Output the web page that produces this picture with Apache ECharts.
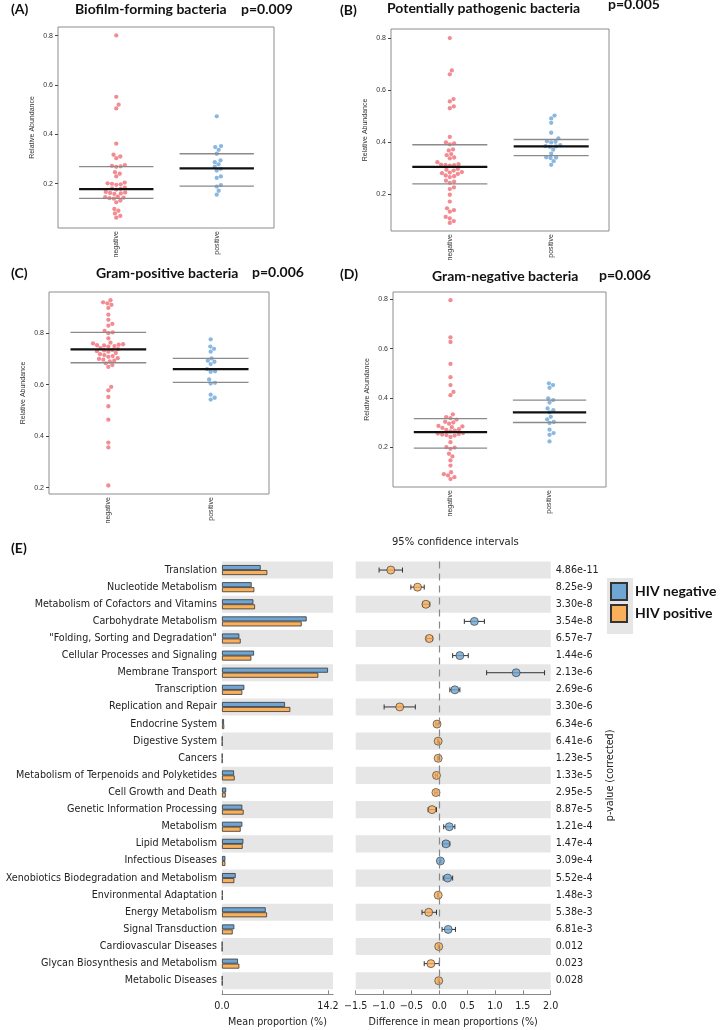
<!DOCTYPE html>
<html>
<head>
<meta charset="utf-8">
<script src="https://cdn.jsdelivr.net/npm/echarts@6/dist/echarts.min.js"></script>
<style>
  html, body { margin: 0; padding: 0; background: #fff; }
  #main { width: 720px; height: 1030px; }
</style>
</head>
<body>
<div id="main"></div>
<script>
// ---- panels A-D : relative abundance per sample ----
const groups = ['negative', 'positive'];

const biofilmNeg = [0.801, 0.552, 0.52, 0.505, 0.362, 0.317, 0.31, 0.303, 0.275, 0.272, 0.27, 0.268, 0.246, 0.24, 0.229, 0.204, 0.201, 0.199, 0.197, 0.195, 0.184, 0.181, 0.179, 0.176, 0.166, 0.164, 0.162, 0.16, 0.158, 0.147, 0.145, 0.143, 0.141, 0.139, 0.131, 0.124, 0.097, 0.09, 0.079, 0.069, 0.062];
const biofilmPos = [0.473, 0.352, 0.348, 0.337, 0.321, 0.294, 0.287, 0.278, 0.269, 0.26, 0.253, 0.229, 0.223, 0.194, 0.188, 0.171, 0.155];
const biofilmMed = [0.178, 0.262];
const biofilmQ1 = [0.14, 0.19];
const biofilmQ3 = [0.269, 0.321];

const pathoNeg = [0.80, 0.676, 0.661, 0.566, 0.557, 0.538, 0.531, 0.421, 0.4, 0.396, 0.392, 0.373, 0.369, 0.355, 0.351, 0.342, 0.339, 0.324, 0.316, 0.315, 0.314, 0.313, 0.311, 0.298, 0.295, 0.292, 0.286, 0.284, 0.282, 0.279, 0.273, 0.27, 0.267, 0.253, 0.249, 0.245, 0.227, 0.221, 0.199, 0.173, 0.147, 0.14, 0.134, 0.114, 0.108, 0.098, 0.091];
const pathoPos = [0.503, 0.492, 0.475, 0.437, 0.415, 0.404, 0.402, 0.4, 0.389, 0.386, 0.385, 0.383, 0.372, 0.357, 0.343, 0.342, 0.34, 0.328, 0.314];
const pathoMed = [0.306, 0.385];
const pathoQ1 = [0.241, 0.349];
const pathoQ3 = [0.391, 0.411];

const gramPosNeg = [0.928, 0.92, 0.916, 0.91, 0.898, 0.872, 0.852, 0.836, 0.829, 0.809, 0.803, 0.8, 0.78, 0.763, 0.76, 0.757, 0.755, 0.753, 0.752, 0.75, 0.748, 0.742, 0.738, 0.735, 0.733, 0.73, 0.728, 0.723, 0.718, 0.715, 0.711, 0.708, 0.703, 0.7, 0.697, 0.693, 0.69, 0.683, 0.676, 0.669, 0.591, 0.578, 0.552, 0.516, 0.464, 0.375, 0.356, 0.208];
const gramPosPos = [0.776, 0.748, 0.739, 0.728, 0.702, 0.693, 0.689, 0.68, 0.66, 0.652, 0.65, 0.62, 0.607, 0.604, 0.561, 0.549, 0.542];
const gramPosMed = [0.737, 0.66];
const gramPosQ1 = [0.685, 0.609];
const gramPosQ3 = [0.803, 0.702];

const gramNegNeg = [0.797, 0.646, 0.627, 0.538, 0.484, 0.452, 0.424, 0.411, 0.333, 0.322, 0.318, 0.312, 0.303, 0.3, 0.295, 0.286, 0.284, 0.281, 0.278, 0.273, 0.27, 0.267, 0.264, 0.257, 0.255, 0.253, 0.251, 0.249, 0.247, 0.241, 0.22, 0.2, 0.198, 0.193, 0.173, 0.162, 0.146, 0.125, 0.098, 0.09, 0.085, 0.078, 0.07];
const gramNegPos = [0.459, 0.452, 0.441, 0.398, 0.391, 0.381, 0.357, 0.35, 0.341, 0.323, 0.313, 0.302, 0.298, 0.271, 0.257, 0.25, 0.223];
const gramNegMed = [0.261, 0.341];
const gramNegQ1 = [0.196, 0.3];
const gramNegQ3 = [0.316, 0.391];

const panelTags = ['(A)', '(B)', '(C)', '(D)'];
const panelTitles = ['Biofilm-forming bacteria', 'Potentially pathogenic bacteria', 'Gram-positive bacteria', 'Gram-negative bacteria'];
const panelP = ['p=0.009', 'p=0.005', 'p=0.006', 'p=0.006'];
const yTicks = [0.2, 0.4, 0.6, 0.8];

// ---- panel E : KEGG level 2 pathways ----
const pathways = ['Translation', 'Nucleotide Metabolism', 'Metabolism of Cofactors and Vitamins', 'Carbohydrate Metabolism',
  '"Folding, Sorting and Degradation"', 'Cellular Processes and Signaling', 'Membrane Transport', 'Transcription',
  'Replication and Repair', 'Endocrine System', 'Digestive System', 'Cancers', 'Metabolism of Terpenoids and Polyketides',
  'Cell Growth and Death', 'Genetic Information Processing', 'Metabolism', 'Lipid Metabolism', 'Infectious Diseases',
  'Xenobiotics Biodegradation and Metabolism', 'Environmental Adaptation', 'Energy Metabolism', 'Signal Transduction',
  'Cardiovascular Diseases', 'Glycan Biosynthesis and Metabolism', 'Metabolic Diseases'];
const meanNeg = [5.18, 3.97, 4.2, 11.34, 2.32, 4.29, 14.2, 2.99, 8.44, 0.27, 0.05, 0.05, 1.61, 0.55, 2.72, 2.72, 2.86, 0.45, 1.83, 0.08, 5.85, 1.65, 0.03, 2.14, 0.05];
const meanPos = [6.07, 4.33, 4.42, 10.67, 2.5, 3.93, 12.9, 2.72, 9.15, 0.3, 0.05, 0.05, 1.7, 0.5, 2.9, 2.5, 2.77, 0.45, 1.65, 0.07, 6.03, 1.43, 0.03, 2.32, 0.05];
const diffMean = [-0.87, -0.39, -0.24, 0.63, -0.18, 0.37, 1.38, 0.28, -0.71, -0.04, -0.02, -0.02, -0.05, -0.06, -0.13, 0.18, 0.12, 0.02, 0.15, -0.02, -0.19, 0.16, -0.01, -0.15, -0.01];
const diffLow = [-1.08, -0.51, -0.3, 0.45, -0.23, 0.24, 0.85, 0.19, -0.99, -0.06, -0.03, -0.03, -0.07, -0.08, -0.2, 0.08, 0.06, 0.01, 0.07, -0.03, -0.31, 0.05, -0.02, -0.27, -0.02];
const diffHigh = [-0.66, -0.27, -0.17, 0.81, -0.12, 0.52, 1.89, 0.37, -0.43, -0.02, -0.01, -0.01, -0.03, -0.04, -0.05, 0.28, 0.19, 0.03, 0.24, -0.01, -0.05, 0.29, 0.0, 0.0, 0.0];
const pValues = ['4.86e-11', '8.25e-9', '3.30e-8', '3.54e-8', '6.57e-7', '1.44e-6', '2.13e-6', '2.69e-6', '3.30e-6', '6.34e-6',
  '6.41e-6', '1.23e-5', '1.33e-5', '2.95e-5', '8.87e-5', '1.21e-4', '1.47e-4', '3.09e-4', '5.52e-4', '1.48e-3',
  '5.38e-3', '6.81e-3', '0.012', '0.023', '0.028'];

// colours
const RED = '#ef6f77', LBLUE = '#6ea6d8';
const BLUE = '#6ea5d2', ORANGE = '#faaf5a';

const panels = [
  { neg: biofilmNeg, pos: biofilmPos, med: biofilmMed, q1: biofilmQ1, q3: biofilmQ3 },
  { neg: pathoNeg, pos: pathoPos, med: pathoMed, q1: pathoQ1, q3: pathoQ3 },
  { neg: gramPosNeg, pos: gramPosPos, med: gramPosMed, q1: gramPosQ1, q3: gramPosQ3 },
  { neg: gramNegNeg, pos: gramNegPos, med: gramNegMed, q1: gramNegQ1, q3: gramNegQ3 }
];

// layout of the four strip charts (pixel boxes and y range)
const boxes = [
  { left: 58, top: 27, width: 216, height: 201, yMin: 0.02, yMax: 0.835 },
  { left: 391, top: 29, width: 218, height: 202, yMin: 0.06, yMax: 0.835 },
  { left: 49, top: 292, width: 220, height: 202, yMin: 0.175, yMax: 0.96 },
  { left: 393, top: 292, width: 213, height: 195, yMin: 0.038, yMax: 0.83 }
];
const titlePos = [
  { tag: [11, 2], title: [75, 2], p: [241, 2] },
  { tag: [340, 3], title: [387, 1], p: [608, -3] },
  { tag: [11, 266], title: [96, 266], p: [252, 265] },
  { tag: [340, 267], title: [432, 269], p: [599, 268] }
];
const X_MIN = 0.42, X_MAX = 2.57, HALF = 0.37, DOT = 4.4;

// beeswarm placement (like R beeswarm 'swarm'), done in pixel space
function swarm(values, center, box) {
  const pxX = box.width / (X_MAX - X_MIN);
  const pxY = box.height / (box.yMax - box.yMin);
  const placed = [];
  values.slice().sort((a, b) => a - b).forEach(v => {
    const y = v * pxY;
    const cands = [0];
    placed.forEach(p => {
      const dy = Math.abs(p.y - y);
      if (dy < DOT) {
        const dx = Math.sqrt(DOT * DOT - dy * dy);
        cands.push(p.x + dx, p.x - dx);
      }
    });
    cands.sort((a, b) => Math.abs(a) - Math.abs(b));
    const x = cands.find(c => placed.every(p => (p.x - c) ** 2 + (p.y - y) ** 2 >= DOT * DOT - 1e-6));
    placed.push({ x: x, y: y, v: v });
  });
  return placed.map(p => [center + p.x / pxX, p.v]);
}

const chart = echarts.init(document.getElementById('main'));

const grids = [], xAxes = [], yAxes = [], series = [], titles = [];
const boldFont = { fontFamily: 'Lato', fontWeight: 'bold', fontSize: 14, color: '#111' };

panels.forEach((pn, i) => {
  const b = boxes[i];
  grids.push({ left: b.left, top: b.top, width: b.width, height: b.height, show: true, borderColor: '#8c8c8c', borderWidth: 1 });
  xAxes.push({
    gridIndex: i, type: 'value', min: X_MIN, max: X_MAX,
    splitLine: { show: false }, axisLine: { show: false }, axisTick: { show: false },
    axisLabel: { customValues: [1, 2], formatter: v => groups[Math.round(v) - 1], rotate: 90, fontSize: 7, margin: 3, color: '#333', fontFamily: 'Liberation Sans' }
  });
  yAxes.push({
    gridIndex: i, type: 'value', min: b.yMin, max: b.yMax,
    splitLine: { show: false }, axisLine: { show: false },
    axisTick: { show: true, customValues: yTicks, length: 3, lineStyle: { color: '#444' } },
    axisLabel: { customValues: yTicks, formatter: v => v.toFixed(1), fontSize: 7, margin: 5, color: '#333', fontFamily: 'Liberation Sans' },
    name: 'Relative Abundance', nameLocation: 'middle', nameGap: 22,
    nameTextStyle: { fontSize: 7, color: '#333', fontFamily: 'Liberation Sans' }
  });
  series.push({
    type: 'scatter', xAxisIndex: i, yAxisIndex: i, symbolSize: 4.3, silent: true,
    itemStyle: { color: RED }, data: swarm(pn.neg, 1, b)
  });
  series.push({
    type: 'scatter', xAxisIndex: i, yAxisIndex: i, symbolSize: 4.3, silent: true,
    itemStyle: { color: LBLUE }, data: swarm(pn.pos, 2, b)
  });
  const lines = [];
  [0, 1].forEach(g => {
    lines.push([g + 1, pn.q1[g], 0], [g + 1, pn.q3[g], 0], [g + 1, pn.med[g], 1]);
  });
  series.push({
    type: 'custom', xAxisIndex: i, yAxisIndex: i, silent: true, z: 5,
    data: lines, encode: { x: 0, y: 1 },
    renderItem: (params, api) => {
      const c = api.value(0), v = api.value(1), kind = api.value(2);
      const a = api.coord([c - HALF, v]), e = api.coord([c + HALF, v]);
      return {
        type: 'line', shape: { x1: a[0], y1: a[1], x2: e[0], y2: a[1] },
        style: { stroke: kind ? '#111' : '#8a8a8a', lineWidth: kind ? 2.2 : 1.3 }
      };
    }
  });
  const tp = titlePos[i];
  titles.push({ text: panelTags[i], left: tp.tag[0], top: tp.tag[1], padding: 0, textStyle: boldFont });
  titles.push({ text: panelTitles[i], left: tp.title[0], top: tp.title[1], padding: 0, textStyle: boldFont });
  titles.push({ text: panelP[i], left: tp.p[0], top: tp.p[1], padding: 0, textStyle: boldFont });
});

titles.push({ text: '(E)', left: 11, top: 541, padding: 0, textStyle: boldFont });
titles.push({ text: '95% confidence intervals', left: 392, top: 537, padding: 0,
  textStyle: { fontFamily: 'DejaVu Sans', fontWeight: 'normal', fontSize: 10, color: '#222' } });

// panel E grids: 4 = mean proportions, 5 = differences
const eTop = 561.5, eHeight = 427.8;
grids.push({ left: 222, top: eTop, width: 111, height: eHeight });
grids.push({ left: 355.7, top: eTop, width: 195, height: eHeight });

const smallText = { fontFamily: 'DejaVu Sans', fontSize: 9.6, color: '#222' };
const bandArea = { show: true, interval: 0, areaStyle: { color: ['#e6e6e6', 'rgba(255,255,255,0)'] } };

xAxes.push({
  gridIndex: 4, type: 'value', min: 0, max: 14.87, offset: 5,
  splitLine: { show: false },
  axisLine: { show: true, lineStyle: { color: '#888' } },
  axisTick: { show: true, inside: true, length: 4, customValues: [0, 14.2], lineStyle: { color: '#888' } },
  axisLabel: Object.assign({ customValues: [0, 14.2], formatter: v => v.toFixed(1), margin: 7 }, smallText),
  name: 'Mean proportion (%)', nameLocation: 'middle', nameGap: 23, nameTextStyle: smallText
});
xAxes.push({
  gridIndex: 5, type: 'value', min: -1.5, max: 2.0, interval: 0.5, offset: 5,
  splitLine: { show: false },
  axisLine: { show: true, lineStyle: { color: '#888' } },
  axisTick: { show: true, inside: true, length: 4, lineStyle: { color: '#888' } },
  axisLabel: Object.assign({ formatter: v => v.toFixed(1).replace('-', '\u2212'), margin: 7, showMinLabel: true, showMaxLabel: true }, smallText),
  name: 'Difference in mean proportions (%)', nameLocation: 'middle', nameGap: 23, nameTextStyle: smallText
});
yAxes.push({
  gridIndex: 4, type: 'category', inverse: true, data: pathways,
  axisLine: { show: false }, axisTick: { show: false },
  axisLabel: Object.assign({ interval: 0, margin: 5 }, smallText),
  splitArea: bandArea
});
yAxes.push({
  gridIndex: 5, type: 'category', inverse: true, data: pathways,
  axisLine: { show: false }, axisTick: { show: false }, axisLabel: { show: false },
  splitArea: bandArea
});
yAxes.push({
  gridIndex: 5, type: 'category', inverse: true, data: pValues, position: 'right',
  axisLine: { show: false }, axisTick: { show: false },
  axisLabel: Object.assign({ interval: 0, margin: 5 }, smallText),
  name: 'p-value (corrected)', nameLocation: 'middle', nameRotate: 90, nameGap: 55,
  nameTextStyle: smallText
});

series.push({
  type: 'bar', name: 'HIV negative', xAxisIndex: 4, yAxisIndex: 4, data: meanNeg,
  barWidth: 5, barGap: '0%', itemStyle: { color: BLUE, borderColor: '#333', borderWidth: 0.8 }
});
series.push({
  type: 'bar', name: 'HIV positive', xAxisIndex: 4, yAxisIndex: 4, data: meanPos,
  barWidth: 5, barGap: '0%', itemStyle: { color: ORANGE, borderColor: '#333', borderWidth: 0.8 }
});
series.push({
  type: 'custom', xAxisIndex: 5, yAxisIndex: 5, silent: true, z: 3,
  data: diffLow.map((lo, i) => [lo, diffHigh[i], i]),
  encode: { x: [0, 1], y: 2 },
  renderItem: (params, api) => {
    const a = api.coord([api.value(0), api.value(2)]);
    const e = api.coord([api.value(1), api.value(2)]);
    const st = { stroke: '#333', lineWidth: 1 };
    return {
      type: 'group', children: [
        { type: 'line', shape: { x1: a[0], y1: a[1], x2: e[0], y2: e[1] }, style: st },
        { type: 'line', shape: { x1: a[0], y1: a[1] - 2.5, x2: a[0], y2: a[1] + 2.5 }, style: st },
        { type: 'line', shape: { x1: e[0], y1: e[1] - 2.5, x2: e[0], y2: e[1] + 2.5 }, style: st }
      ]
    };
  }
});
series.push({
  type: 'scatter', name: 'difference', xAxisIndex: 5, yAxisIndex: 5, symbolSize: 8, z: 4,
  data: diffMean.map((d, i) => ({ value: [d, i], itemStyle: { color: d > 0 ? BLUE : ORANGE } })),
  itemStyle: { borderColor: '#333', borderWidth: 0.8 },
  markLine: {
    silent: true, symbol: 'none', label: { show: false },
    lineStyle: { color: '#888', type: [7, 5], width: 1.2 },
    data: [{ xAxis: 0 }]
  }
});

chart.setOption({
  animation: false,
  textStyle: { fontFamily: 'DejaVu Sans' },
  title: titles,
  grid: grids,
  xAxis: xAxes,
  yAxis: yAxes,
  series: series,
  legend: {
    data: ['HIV negative', 'HIV positive'], orient: 'vertical', left: 610, top: 582, padding: 0,
    itemWidth: 16, itemHeight: 17, itemGap: 3, icon: 'rect', selectedMode: false,
    textStyle: { fontFamily: 'Lato', fontWeight: 'bold', fontSize: 14, color: '#111', padding: [0, 0, 0, 3] }
  },
  graphic: [{
    type: 'rect', left: 607, top: 578, z: 0, silent: true,
    shape: { width: 26, height: 56 }, style: { fill: '#e6e6e6' }
  }]
});
</script>
</body>
</html>
